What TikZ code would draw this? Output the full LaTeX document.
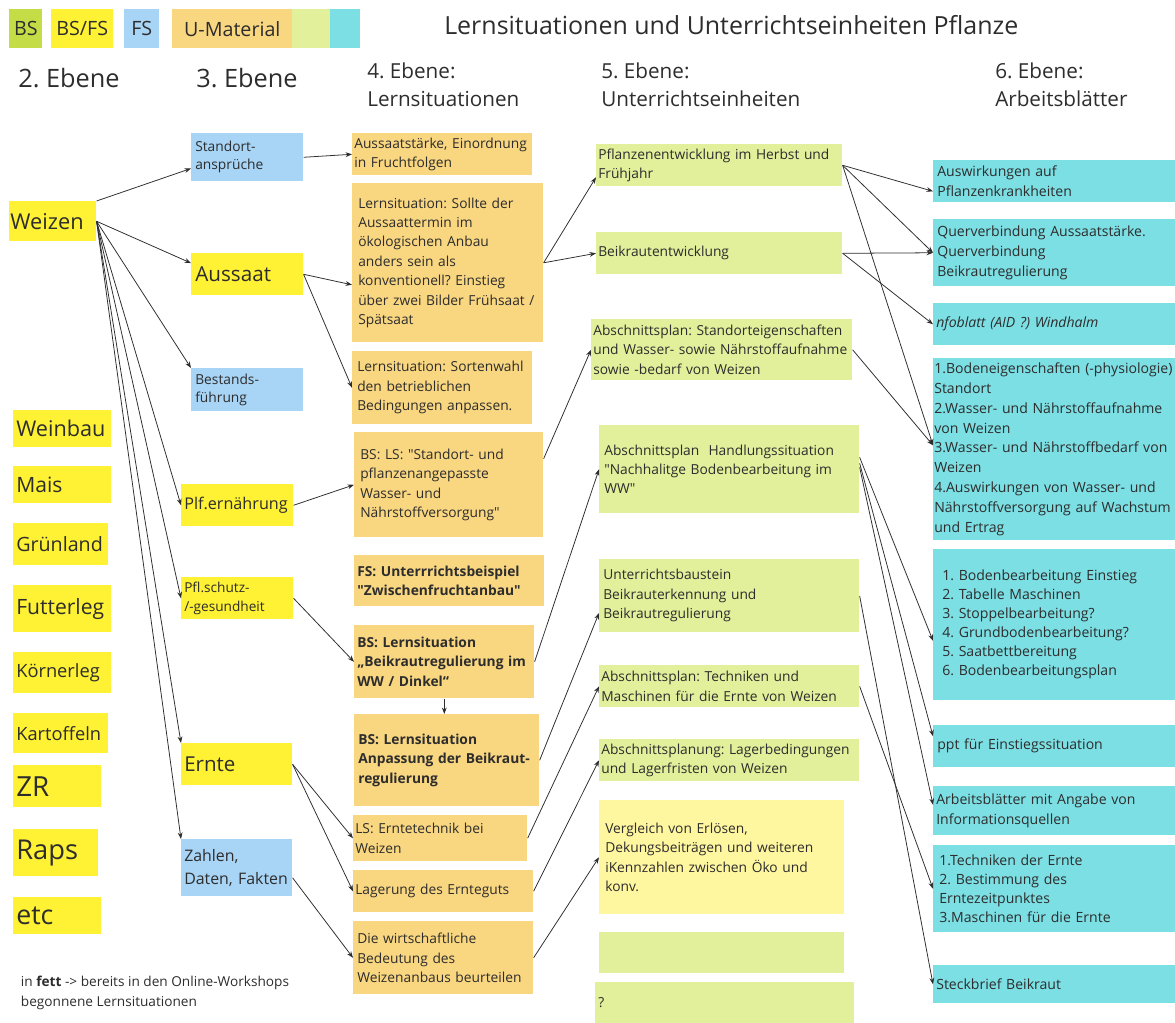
\documentclass[tikz,border=0pt]{standalone}
\usepackage{fontspec}
\setmainfont{Open Sans}
\usetikzlibrary{arrows.meta}
\definecolor{bsgruen}{RGB}{196,221,70}
\definecolor{gelb}{RGB}{255,241,51}
\definecolor{blau}{RGB}{168,212,245}
\definecolor{umatfarbe}{RGB}{249,214,128}
\definecolor{hellgruen}{RGB}{226,240,155}
\definecolor{tuerkis}{RGB}{124,223,228}
\definecolor{hellgelb}{RGB}{255,246,160}
\definecolor{schrift}{RGB}{45,45,45}
\newcommand\grundschrift{\fontsize{9.8}{13.8}\selectfont}
\newcommand\abschrift{\fontsize{10}{14.2}\selectfont}
\newcommand\gz{\textquotedbl}
\frenchspacing

\begin{document}
\begin{tikzpicture}[x=0.025cm, y=-0.025cm,
  box/.style={anchor=north west, inner ysep=0pt, align=left, text=schrift, font=\grundschrift},
  bsfs/.style={box, fill=gelb},
  fs/.style={box, fill=blau},
  umat/.style={box, fill=umatfarbe},
  fett/.style={font=\grundschrift\bfseries},
  ue/.style={box, fill=hellgruen},
  ab/.style={box, fill=tuerkis, font=\abschrift},
  leg/.style={anchor=north west, inner sep=0pt, minimum height=0.975cm, text=schrift, font=\fontsize{14}{16}\selectfont},
  kopf/.style={anchor=west, align=left, text=schrift, inner sep=0pt},
  arr/.style={-{Stealth[length=4.6pt,width=3.4pt]}, draw=schrift, line width=0.55pt}]
\useasboundingbox (0,0) rectangle (1175,1023);

% Legende und Kopfzeilen
\node[leg, fill=bsgruen, minimum width=0.825cm] (legbs) at (9,9) {BS};
\node[leg, fill=gelb, minimum width=1.55cm] (legbsfs) at (51,9) {BS/FS};
\node[leg, fill=blau, minimum width=0.875cm] (legfs) at (124,9) {FS};
\node[leg, fill=umatfarbe, minimum width=3.0cm] (legumat) at (172,9) {U-Material};
\node[leg, fill=hellgruen, minimum width=0.95cm] (legue) at (292,9) {};
\node[leg, fill=tuerkis, minimum width=0.75cm] (legab) at (330,9) {};
\node[kopf, font=\fontsize{17.75}{20}\selectfont] (titel) at (444,25) {Lernsituationen und Unterrichtseinheiten Pflanze};
\node[kopf, font=\fontsize{18}{20}\selectfont] (ebene2) at (18,78) {2. Ebene};
\node[kopf, font=\fontsize{18}{20}\selectfont] (ebene3) at (196,78) {3. Ebene};
\node[kopf, font=\fontsize{14.7}{20}\selectfont] (ebene4) at (367,85) {4. Ebene:\\Lernsituationen};
\node[kopf, font=\fontsize{14.7}{20}\selectfont] (ebene5) at (601,85) {5. Ebene:\\Unterrichtseinheiten};
\node[kopf, font=\fontsize{14.7}{20}\selectfont] (ebene6) at (995,85) {6. Ebene:\\Arbeitsblätter};

% 2. Ebene
\node[bsfs, font=\fontsize{15.5}{18}\selectfont, inner xsep=0.03cm, text width=2.115cm, minimum height=1.0cm] (weizen) at (9,201) {Weizen};
\node[bsfs, font=\fontsize{15.4}{18}\selectfont, inner xsep=0.075cm, text width=2.3cm, minimum height=0.925cm] (weinbau) at (13,410) {Weinbau};
\node[bsfs, font=\fontsize{15}{18}\selectfont, inner xsep=0.075cm, text width=2.3cm, minimum height=0.925cm] (mais) at (13,466) {Mais};
\node[bsfs, font=\fontsize{14}{18}\selectfont, inner xsep=0.075cm, text width=2.225cm, minimum height=1.05cm] (gruenland) at (13,523) {Grünland};
\node[bsfs, font=\fontsize{15}{18}\selectfont, inner xsep=0.075cm, text width=2.3cm, minimum height=1.175cm] (futterleg) at (13,585) {Futterleg};
\node[bsfs, font=\fontsize{13}{16}\selectfont, inner xsep=0.075cm, text width=2.3cm, minimum height=1.025cm] (koernerleg) at (13,652) {Körnerleg};
\node[bsfs, font=\fontsize{13}{16}\selectfont, inner xsep=0.075cm, text width=2.225cm, minimum height=1.0cm] (kartoffeln) at (13,713) {Kartoffeln};
\node[bsfs, font=\fontsize{19.7}{22}\selectfont, inner xsep=0.075cm, text width=2.05cm, minimum height=1.05cm] (zr) at (13,765) {ZR};
\node[bsfs, font=\fontsize{19.4}{22}\selectfont, inner xsep=0.075cm, text width=1.975cm, minimum height=1.175cm] (raps) at (13,829) {Raps};
\node[bsfs, font=\fontsize{19}{22}\selectfont, inner xsep=0.075cm, text width=2.05cm, minimum height=0.925cm] (etc) at (13,897) {etc};
\node[box, font=\fontsize{9.7}{14.2}\selectfont] (hinweis) at (16,976) {in \textbf{fett} -> bereits in den Online-Workshops\\begonnene Lernsituationen};

% 3. Ebene
\node[fs, font=\fontsize{9.8}{12.8}\selectfont, inner xsep=0.1cm, text width=2.6cm, minimum height=1.2cm] (standort) at (191,133) {Standort-\\ansprüche};
\node[bsfs, font=\fontsize{14.7}{18}\selectfont, inner xsep=0.1cm, text width=2.6cm, minimum height=1.05cm] (aussaat) at (191,253) {Aussaat};
\node[fs, font=\fontsize{9.8}{12.8}\selectfont, inner xsep=0.1cm, text width=2.6cm, minimum height=1.075cm] (bestands) at (191,368) {Bestands-\\führung};
\node[bsfs, font=\fontsize{11.5}{14}\selectfont, inner xsep=0.075cm, text width=2.65cm, minimum height=1.05cm] (ernaehrung) at (181,484) {Plf.ernährung};
\node[bsfs, font=\fontsize{9.7}{13}\selectfont, inner xsep=0.075cm, text width=2.65cm, minimum height=1.05cm] (pflschutz) at (181,577) {Pfl.schutz-\\/-gesundheit};
\node[bsfs, font=\fontsize{14.6}{18}\selectfont, inner xsep=0.075cm, text width=2.625cm, minimum height=1.05cm] (ernte) at (181,743) {Ernte};
\node[fs, font=\fontsize{11.3}{16}\selectfont, inner xsep=0.075cm, text width=2.625cm, minimum height=1.425cm] (zahlen) at (181,839) {Zahlen,\\Daten, Fakten};

% 4. Ebene
\node[umat, inner xsep=0.05cm, text width=4.4cm, minimum height=1.05cm] (aussaatstaerke) at (352,133) {Aussaatstärke, Einordnung\\in Fruchtfolgen};
\node[umat, inner xsep=0.15cm, text width=4.475cm, minimum height=3.975cm] (sollte) at (352,183) {Lernsituation: Sollte der\\Aussaattermin im\\ökologischen Anbau\\anders sein als\\konventionell? Einstieg\\über zwei Bilder Frühsaat /\\Spätsaat};
\node[umat, inner xsep=0.125cm, text width=4.25cm, minimum height=1.825cm] (sortenwahl) at (352,351) {Lernsituation: Sortenwahl\\den betrieblichen\\Bedingungen anpassen.};
\node[umat, inner xsep=0.15cm, text width=4.425cm, minimum height=2.625cm] (lsstandort) at (354,432) {BS: LS: \gz Standort- und\\pflanzenangepasste\\Wasser- und\\Nährstoffversorgung\gz};
\node[umat, fett, inner xsep=0.075cm, text width=4.6cm, minimum height=1.275cm] (fsbeispiel) at (354,555) {FS: Unterrrichtsbeispiel\\\gz Zwischenfruchtanbau\gz};
\node[umat, fett, inner xsep=0.075cm, text width=4.35cm, minimum height=1.825cm] (beikrautww) at (354,625) {BS: Lernsituation\\„Beikrautregulierung im\\WW / Dinkel“};
\node[umat, fett, inner xsep=0.1cm, text width=4.425cm, minimum height=2.3cm] (anpassung) at (354,714) {BS: Lernsituation\\Anpassung der Beikraut-\\regulierung};
\node[umat, inner xsep=0.05cm, text width=4.25cm, minimum height=1.15cm] (erntetechnik) at (353,815) {LS: Erntetechnik bei\\Weizen};
\node[umat, inner xsep=0.05cm, text width=4.4cm, minimum height=1.05cm] (lagerung) at (353,870) {Lagerung des Ernteguts};
\node[umat, inner xsep=0.1cm, text width=4.3cm, minimum height=1.825cm] (wirtschaft) at (353,921) {Die wirtschaftliche\\Bedeutung des\\Weizenanbaus beurteilen};

% 5. Ebene
\node[ue, inner xsep=0.05cm, text width=6.05cm, minimum height=1.05cm] (pflentw) at (596,144) {Pflanzenentwicklung im Herbst und\\Frühjahr};
\node[ue, inner xsep=0.05cm, text width=6.05cm, minimum height=1.05cm] (beikrentw) at (596,232) {Beikrautentwicklung};
\node[ue, inner xsep=0.05cm, text width=6.425cm, minimum height=1.525cm] (standorteig) at (591,319) {Abschnittsplan: Standorteigenschaften\\und Wasser- sowie Nährstoffaufnahme\\sowie -bedarf von Weizen};
\node[ue, inner xsep=0.125cm, text width=6.25cm, minimum height=2.2cm] (handlung) at (599,425) {Abschnittsplan~ Handlungssituation\\\gz Nachhalitge Bodenbearbeitung im\\WW\gz};
\node[ue, inner xsep=0.1cm, text width=6.3cm, minimum height=1.825cm] (baustein) at (599,559) {Unterrichtsbaustein\\Beikrauterkennung und\\Beikrautregulierung};
\node[ue, inner xsep=0.05cm, text width=6.4cm, minimum height=1.05cm] (techniken) at (599,665) {Abschnittsplan: Techniken und\\Maschinen für die Ernte von Weizen};
\node[ue, inner xsep=0.05cm, text width=6.4cm, minimum height=1.05cm] (lagerbed) at (599,739) {Abschnittsplanung: Lagerbedingungen\\und Lagerfristen von Weizen};
\node[box, fill=hellgelb, inner xsep=0.15cm, text width=5.825cm, minimum height=2.85cm] (vergleich) at (599,800) {Vergleich von Erlösen,\\Dekungsbeiträgen und weiteren\\iKennzahlen zwischen Öko und\\konv.};
\node[ue, inner xsep=0pt, text width=6.125cm, minimum height=1.025cm] (leer) at (599,932) {};
\node[ue, inner xsep=0.075cm, text width=6.325cm, minimum height=1.025cm] (frage) at (595,982) {?};

% 6. Ebene
\node[ab, inner xsep=0.1cm, text width=5.85cm, minimum height=1.05cm] (auswirk) at (933,160) {Auswirkungen auf\\Pflanzenkrankheiten};
\node[ab, inner xsep=0.1cm, text width=5.85cm, minimum height=1.675cm] (querverb) at (933,219) {Querverbindung Aussaatstärke.\\Querverbindung\\Beikrautregulierung};
\node[ab, font=\abschrift\itshape, inner xsep=0.075cm, text width=5.9cm, minimum height=1.05cm] (infoblatt) at (933,303) {nfoblatt (AID ?) Windhalm};
\node[ab, inner xsep=0.025cm, text width=6.05cm, minimum height=4.55cm] (bodeneig) at (933,358) {1.Bodeneigenschaften (-physiologie)\\Standort\\2.Wasser- und Nährstoffaufnahme\\von Weizen\\3.Wasser- und Nährstoffbedarf von\\Weizen\\4.Auswirkungen von Wasser- und\\Nährstoffversorgung auf Wachstum\\und Ertrag};
\node[ab, font=\fontsize{10}{13.5}\selectfont, inner xsep=0.225cm, text width=5.6cm, minimum height=3.775cm] (bodenbearb) at (933,549) {1. Bodenbearbeitung Einstieg\\2. Tabelle Maschinen\\3. Stoppelbearbeitung?\\4. Grundbodenbearbeitung?\\5. Saatbettbereitung\\6. Bodenbearbeitungsplan};
\node[ab, inner xsep=0.1cm, text width=5.85cm, minimum height=1.05cm] (ppt) at (933,725) {ppt für Einstiegssituation};
\node[ab, inner xsep=0.075cm, text width=5.9cm, minimum height=1.225cm] (arbeitsbl) at (933,786) {Arbeitsblätter mit Angabe von\\Informationsquellen};
\node[ab, font=\fontsize{10}{13.5}\selectfont, inner xsep=0.15cm, text width=5.75cm, minimum height=2.175cm] (erntetech6) at (933,845) {1.Techniken der Ernte\\2. Bestimmung des\\Erntezeitpunktes\\3.Maschinen für die Ernte};
\node[ab, inner xsep=0.075cm, text width=5.9cm, minimum height=0.95cm] (steckbrief) at (933,965) {Steckbrief Beikraut};

% Pfeile
\path (weizen.north east) edge [arr] ([yshift=-0.28cm]standort.west);
\path (weizen.east) edge [arr] ([yshift=0.28cm]aussaat.west);
\path (weizen.east) edge [arr] (bestands.north west);
\path (weizen.east) edge [arr] (ernaehrung.west);
\path (weizen.east) edge [arr] (pflschutz.west);
\path (weizen.east) edge [arr] (ernte.north west);
\path (weizen.east) edge [arr] (zahlen.north west);
\path (standort.east) edge [arr] (aussaatstaerke.west);
\path (aussaat.east) edge [arr] ([yshift=-0.55cm]sollte.west);
\path (aussaat.east) edge [arr] (sortenwahl.west);
\path (ernaehrung.east) edge [arr] (lsstandort.west);
\path (pflschutz.east) edge [arr] (beikrautww.west);
\path (beikrautww.south) edge [arr] (beikrautww.south |- anpassung.north);
\path (ernte.east) edge [arr] (erntetechnik.west);
\path (ernte.east) edge [arr] (lagerung.west);
\path ([yshift=-0.25cm]zahlen.east) edge [arr] (wirtschaft.west);
\path (sollte.east) edge [arr] ([yshift=-0.3cm]pflentw.west);
\path (sollte.east) edge [arr] (beikrentw.west);
\path ([yshift=0.65cm]lsstandort.east) edge [arr] (standorteig.west);
\path (beikrautww.east) edge [arr] (handlung.west);
\path (anpassung.east) edge [arr] ([yshift=-0.43cm]baustein.west);
\path (erntetechnik.east) edge [arr] (techniken.west);
\path (lagerung.east) edge [arr] (lagerbed.west);
\path (wirtschaft.east) edge [arr] (vergleich.west);
\path (pflentw.east) edge [arr] ([yshift=-0.25cm]auswirk.west);
\path (pflentw.east) edge [arr] (querverb.west);
\path (pflentw.east) edge [arr] ([yshift=0.1cm]bodeneig.west);
\path (beikrentw.east) edge [arr] (querverb.west);
\path (beikrentw.east) edge [arr] (infoblatt.west);
\path (standorteig.east) edge [arr] ([yshift=0.1cm]bodeneig.west);
\path ([yshift=0.3cm]handlung.east) edge [arr] ([yshift=-0.4cm]bodenbearb.west);
\path ([yshift=0.15cm]handlung.east) edge [arr] ([yshift=0.25cm]ppt.west);
\path ([yshift=0.05cm]handlung.east) edge [arr] ([yshift=0.15cm]arbeitsbl.west);
\path (baustein.east) edge [arr] (steckbrief.west);
\path (techniken.east) edge [arr] (erntetech6.west);
\end{tikzpicture}
\end{document}
